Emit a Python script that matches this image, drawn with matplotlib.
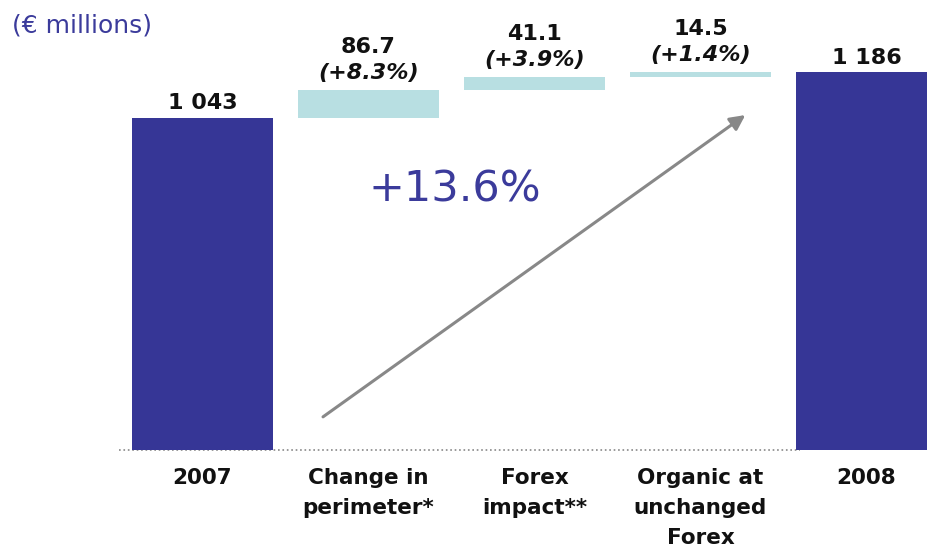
import matplotlib.pyplot as plt

categories = ['2007', 'Change in\nperimeter*', 'Forex\nimpact**', 'Organic at\nunchanged\nForex', '2008']
start_value = 1043
end_value = 1186
steps = [86.7, 41.1, 14.5]
step_pcts = ['(+8.3%)', '(+3.9%)', '(+1.4%)']
total_growth = '+13.6%'

navy = '#363696'
teal = '#b8dfe2'
blue_txt = '#3b3b9b'

fig = plt.figure(figsize=(9.28, 5.5), dpi=100)
ax = fig.add_axes([0, 100 / 550, 1, 450 / 550])
ax.set_xlim(-202.5 / 166, (928 - 202.5) / 166)
ax.set_ylim(0, 1412)
ax.axis('off')

w = 141 / 166
ax.bar(0, start_value, width=w, color=navy, zorder=2)
ax.bar(4, end_value, width=w, color=navy, zorder=2)

# floating increments
base = start_value
for i, (v, p) in enumerate(zip(steps, step_pcts), start=1):
    ax.bar(i, v, bottom=base, width=w, color=teal, zorder=2)
    top = base + v
    ax.annotate(p, (i, top), xytext=(0, 5), textcoords='offset points',
                ha='center', va='bottom', fontsize=16, fontweight='bold',
                fontstyle='italic', color='#111111')
    ax.annotate(f'{v:.1f}', (i, top), xytext=(0, 24), textcoords='offset points',
                ha='center', va='bottom', fontsize=16, fontweight='bold',
                color='#111111')
    base = top

for i, v in [(0, start_value), (4, end_value)]:
    s = f'{v:,}'.replace(',', ' ')
    ax.annotate(s, (i, v), xytext=(0, 3), textcoords='offset points',
                ha='center', va='bottom', fontsize=16, fontweight='bold',
                color='#111111')

# dotted baseline
ax.plot([-0.5, 3.6], [0, 0], color='#888888', linestyle=':', linewidth=1.2, zorder=1,
        clip_on=False)

for i, c in enumerate(categories):
    ax.annotate(c, (i, 0), xytext=(0, -13), textcoords='offset points',
                ha='center', va='top', fontsize=15.5, fontweight='bold',
                color='#111111', linespacing=1.63, annotation_clip=False)

# growth arrow
ax.annotate('', xy=(3.27, 1051), xytext=(0.726, 104),
            arrowprops=dict(arrowstyle='-|>,head_length=0.9,head_width=0.45',
                            color='#888888', lw=2.2, shrinkA=0, shrinkB=0))
ax.text(1.52, 816, total_growth, ha='center', va='center', fontsize=31,
        color=blue_txt)

fig.text(12 / 928, 1 - 25 / 550, '(€ millions)', ha='left', va='center',
         fontsize=18, color=blue_txt)

fig.savefig('out.png', dpi=100)
